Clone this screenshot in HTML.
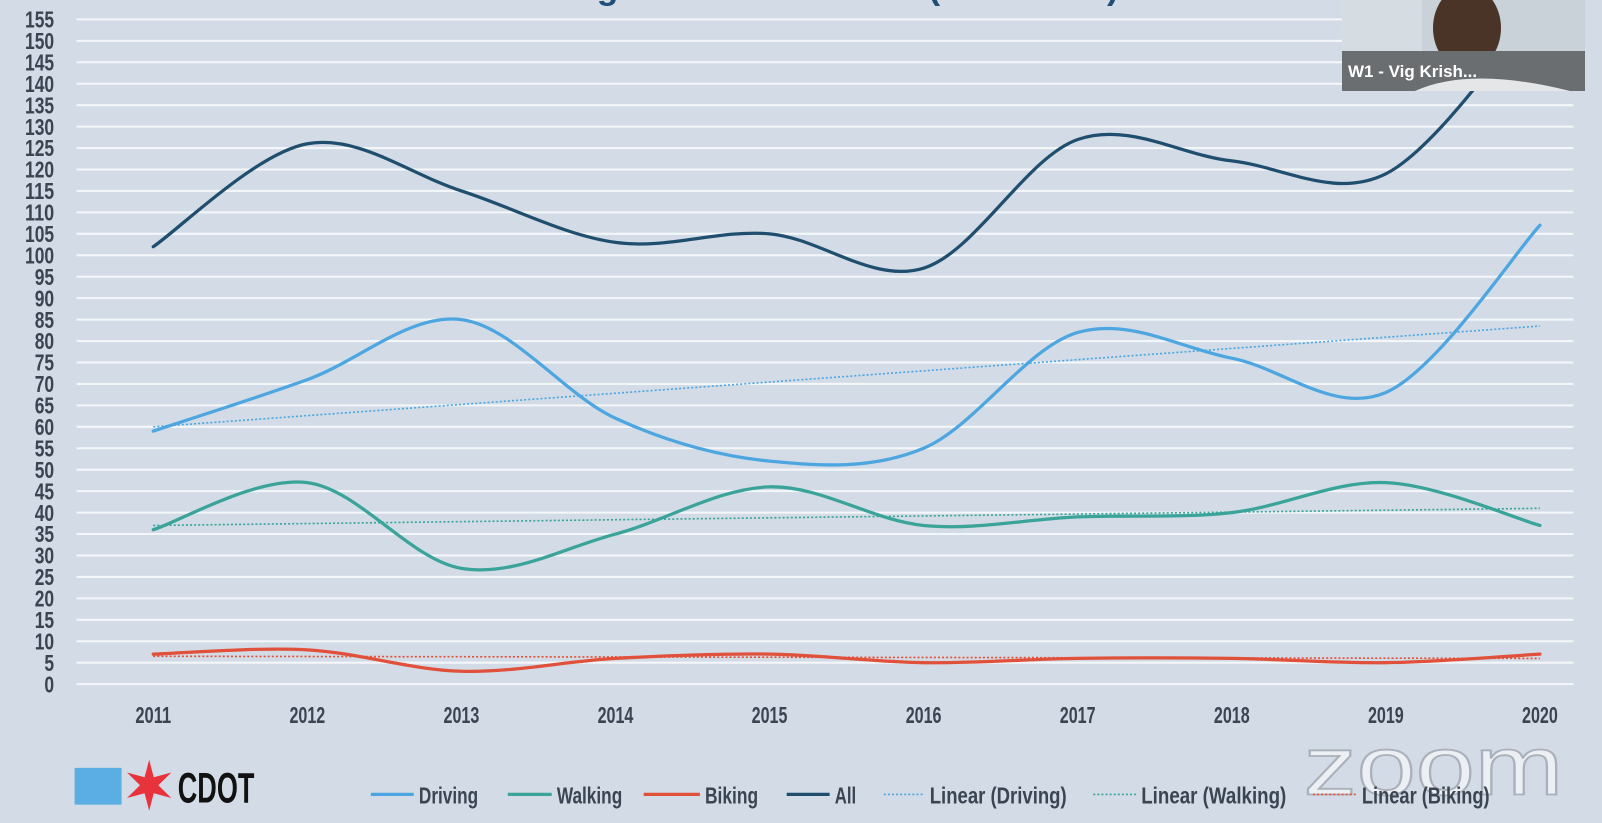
<!DOCTYPE html>
<html><head><meta charset="utf-8">
<style>
html,body{margin:0;padding:0;background:#d3dce6;}
svg{display:block;}
text{font-family:"Liberation Sans Narrow","Liberation Sans",sans-serif;font-weight:bold;fill:#3b4452;}
</style></head>
<body>
<svg id="s" width="1602" height="823" viewBox="0 0 1602 823" xmlns="http://www.w3.org/2000/svg">
<rect width="1602" height="823" fill="#d3dce6"/>
<g id="main" transform="scale(1.0217,1.0211)">
<text x="490" y="-1" font-size="34" textLength="605" lengthAdjust="spacingAndGlyphs" style="fill:#1f4e79;font-family:'Liberation Sans',sans-serif">Chicago Traffic Fatalities (2011-2020)</text>
<g id="grid"></g>
<g id="lines"></g>
<text x="1276" y="778" font-size="82" textLength="254" lengthAdjust="spacingAndGlyphs" style="fill:#eceff3;stroke:#aab1ba;stroke-width:1.8;font-family:'Liberation Sans',sans-serif;font-weight:normal">zoom</text>
<rect x="73" y="752" width="46" height="36" fill="#5aaee3"/>
<polygon id="star" fill="#e8333c"/>
<text x="174" y="786" font-size="42" textLength="75" lengthAdjust="spacingAndGlyphs" style="fill:#111">CDOT</text>
<g id="legend"></g>
</g>
<rect x="1342" y="0" width="243" height="91" fill="#c8d2d8"/>
<rect x="1342" y="0" width="80" height="91" fill="#d6dde2"/>
<ellipse cx="1467" cy="28" rx="34" ry="42" fill="#4a3428"/>
<rect x="1342" y="51" width="243" height="40" fill="#6b6e70"/>
<path d="M1415 91 Q1470 66 1570 91Z" fill="#e4e6e8"/>
<text x="1348" y="77" font-size="17" style="fill:#fff;font-family:'Liberation Sans',sans-serif">W1 - Vig Krish...</text>
</svg>
<script>
const NS="http://www.w3.org/2000/svg";
function el(p,t,a,txt){const e=document.createElementNS(NS,t);for(const k in a)e.setAttribute(k,a[k]);if(txt!==undefined)e.textContent=txt;p.appendChild(e);return e;}
const grid=document.getElementById('grid'),lines=document.getElementById('lines'),leg=document.getElementById('legend');
const Y=v=>670-v*4.2, X=i=>150+i*150.8;
for(let v=0;v<=155;v+=5){
 el(grid,'line',{x1:75,x2:1540,y1:Y(v),y2:Y(v),stroke:'#f4f7fa','stroke-width':2});
 const s=String(v);
 el(grid,'text',{x:53,y:Y(v)+8,'font-size':23,'text-anchor':'end',textLength:s.length*9.5,lengthAdjust:'spacingAndGlyphs'},s);
}
for(let i=0;i<10;i++){
 el(grid,'text',{x:X(i),y:708,'font-size':23,'text-anchor':'middle',textLength:35,lengthAdjust:'spacingAndGlyphs'},String(2011+i));
}
function smooth(vals){
 const p=vals.map((v,i)=>[X(i),Y(v)]);let d=`M${p[0][0]},${p[0][1]}`;
 for(let i=0;i<p.length-1;i++){
  const p0=p[i-1]||p[i],p1=p[i],p2=p[i+1],p3=p[i+2]||p[i+1];
  const c1=[p1[0]+(p2[0]-p0[0])/6,p1[1]+(p2[1]-p0[1])/6];
  const c2=[p2[0]-(p3[0]-p1[0])/6,p2[1]-(p3[1]-p1[1])/6];
  d+=` C${c1[0]},${c1[1]} ${c2[0]},${c2[1]} ${p2[0]},${p2[1]}`;
 }return d;}
const S=[
 {c:'#e0503a',v:[7,8,3,6,7,5,6,6,5,7],t:[6.5,6]},
 {c:'#3aa39a',v:[36,47,27,35,46,37,39,40,47,37],t:[37,41]},
 {c:'#4ea6e0',v:[59,71,85,62,52,55,82,76,68,107],t:[60,83.5]},
 {c:'#1f4e6e',v:[102,126,115,103,105,97,127,122,119,158],t:null}
];
S.forEach(s=>{
 if(s.t)el(lines,'line',{x1:X(0),x2:X(9),y1:Y(s.t[0]),y2:Y(s.t[1]),stroke:s.c,'stroke-width':1.6,'stroke-dasharray':'2 2'});
});
S.forEach(s=>{el(lines,'path',{d:smooth(s.v),fill:'none',stroke:s.c,'stroke-width':3.2,'stroke-linecap':'round'});});
const L=[[363,405,'#4ea6e0',false,'Driving',58],[497,540,'#3aa39a',false,'Walking',64],[630,685,'#e0503a',false,'Biking',52],[770,812,'#1f4e6e',false,'All',21],
[865,905,'#4ea6e0',true,'Linear (Driving)',134],[1070,1112,'#3aa39a',true,'Linear (Walking)',142],[1285,1328,'#e0503a',true,'Linear (Biking)',125]];
L.forEach(([a,b,c,dot,t,w])=>{
 el(leg,'line',{x1:a,x2:b,y1:778,y2:778,stroke:c,'stroke-width':dot?1.6:3.2,'stroke-dasharray':dot?'2 2':'none'});
 el(leg,'text',{x:b+5,y:787,'font-size':23,textLength:w,lengthAdjust:'spacingAndGlyphs'},t);
});
const st=document.getElementById('star');let pts=[];const cx=146,cy=769;
for(let i=0;i<12;i++){const r=i%2?9:25;const a=-Math.PI/2+i*Math.PI/6;pts.push((cx+r*Math.cos(a)).toFixed(1)+','+(cy+r*Math.sin(a)).toFixed(1));}
st.setAttribute('points',pts.join(' '));
</script>
</body></html>
